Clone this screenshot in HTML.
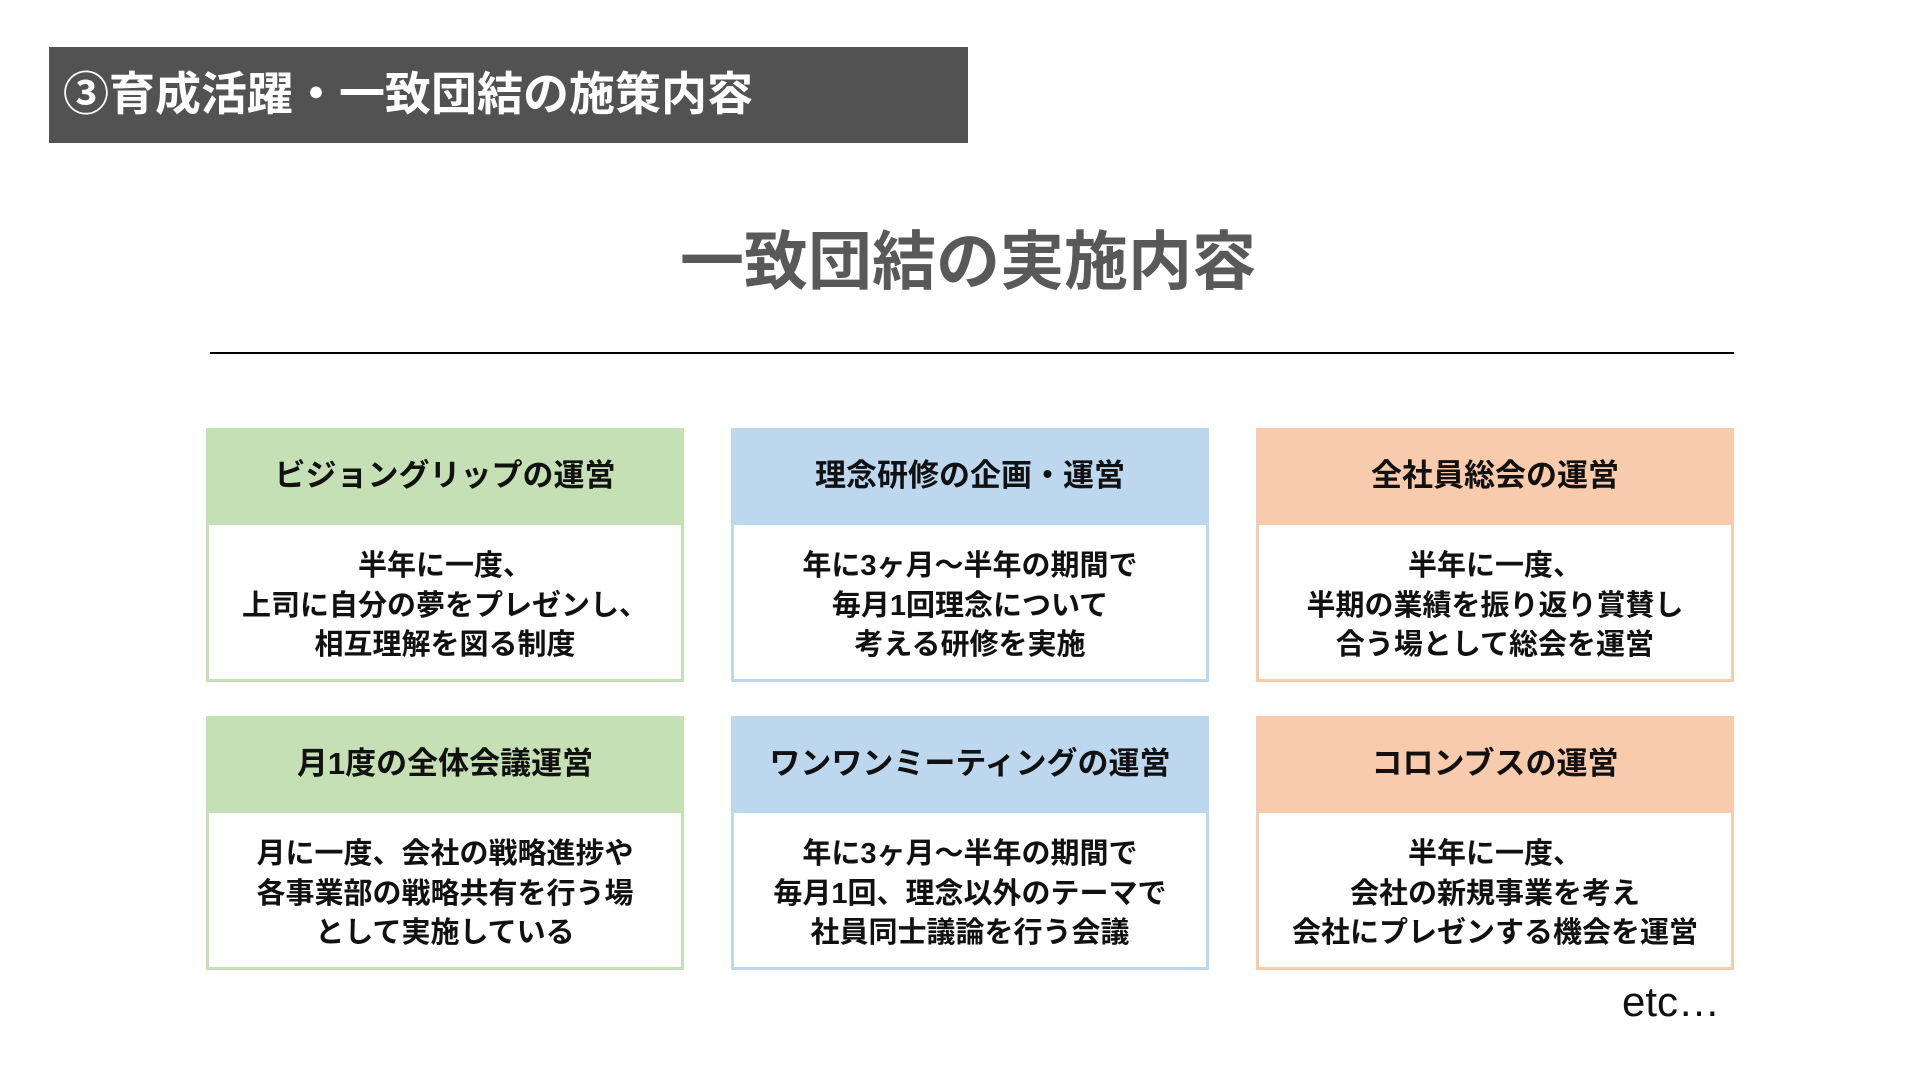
<!DOCTYPE html>
<html><head><meta charset="utf-8"><style>
body{margin:0;width:1932px;height:1090px;background:#fff;position:relative;overflow:hidden;font-family:"Liberation Sans","Noto Sans CJK JP",sans-serif;}
.hd{position:absolute;left:49px;top:47px;width:919px;height:96px;background:#525252;color:#fff;font-weight:bold;font-size:46px;line-height:94px;padding-left:14px;box-sizing:border-box;letter-spacing:0px;}
.tt{position:absolute;left:0;width:1936px;top:222px;text-align:center;font-size:64px;font-weight:bold;color:#595959;line-height:80px;}
.ln{position:absolute;left:210px;top:352px;width:1524px;height:2px;background:#000;}
.bx{position:absolute;width:478px;height:254px;box-sizing:border-box;border:3px solid;background:#fff;}
.bx .h{height:94px;display:flex;align-items:center;justify-content:center;font-weight:bold;font-size:31px;color:#111;padding-bottom:12px;box-sizing:border-box;}
.bx .b{text-align:center;font-weight:bold;font-size:29px;line-height:39.5px;color:#111;padding-top:22px;}
.g{border-color:#c5e0b4}.g .h{background:#c5e0b4}
.u{border-color:#bdd7ee}.u .h{background:#bdd7ee}
.o{border-color:#f8cbad}.o .h{background:#f8cbad}
.etc{position:absolute;left:1622px;top:978px;font-size:42px;color:#111;}
</style></head><body>
<div class="hd">③育成活躍・一致団結の施策内容</div>
<div class="tt">一致団結の実施内容</div>
<div class="ln"></div>
<div class="bx g" style="left:206px;top:428px"><div class="h">ビジョングリップの運営</div><div class="b">半年に一度、<br>上司に自分の夢をプレゼンし、<br>相互理解を図る制度</div></div>
<div class="bx u" style="left:731px;top:428px"><div class="h">理念研修の企画・運営</div><div class="b">年に3ヶ月～半年の期間で<br>毎月1回理念について<br>考える研修を実施</div></div>
<div class="bx o" style="left:1256px;top:428px"><div class="h">全社員総会の運営</div><div class="b">半年に一度、<br>半期の業績を振り返り賞賛し<br>合う場として総会を運営</div></div>
<div class="bx g" style="left:206px;top:716px"><div class="h">月1度の全体会議運営</div><div class="b">月に一度、会社の戦略進捗や<br>各事業部の戦略共有を行う場<br>として実施している</div></div>
<div class="bx u" style="left:731px;top:716px"><div class="h">ワンワンミーティングの運営</div><div class="b">年に3ヶ月～半年の期間で<br>毎月1回、理念以外のテーマで<br>社員同士議論を行う会議</div></div>
<div class="bx o" style="left:1256px;top:716px"><div class="h">コロンブスの運営</div><div class="b">半年に一度、<br>会社の新規事業を考え<br>会社にプレゼンする機会を運営</div></div>
<div class="etc">etc…</div>
</body></html>
